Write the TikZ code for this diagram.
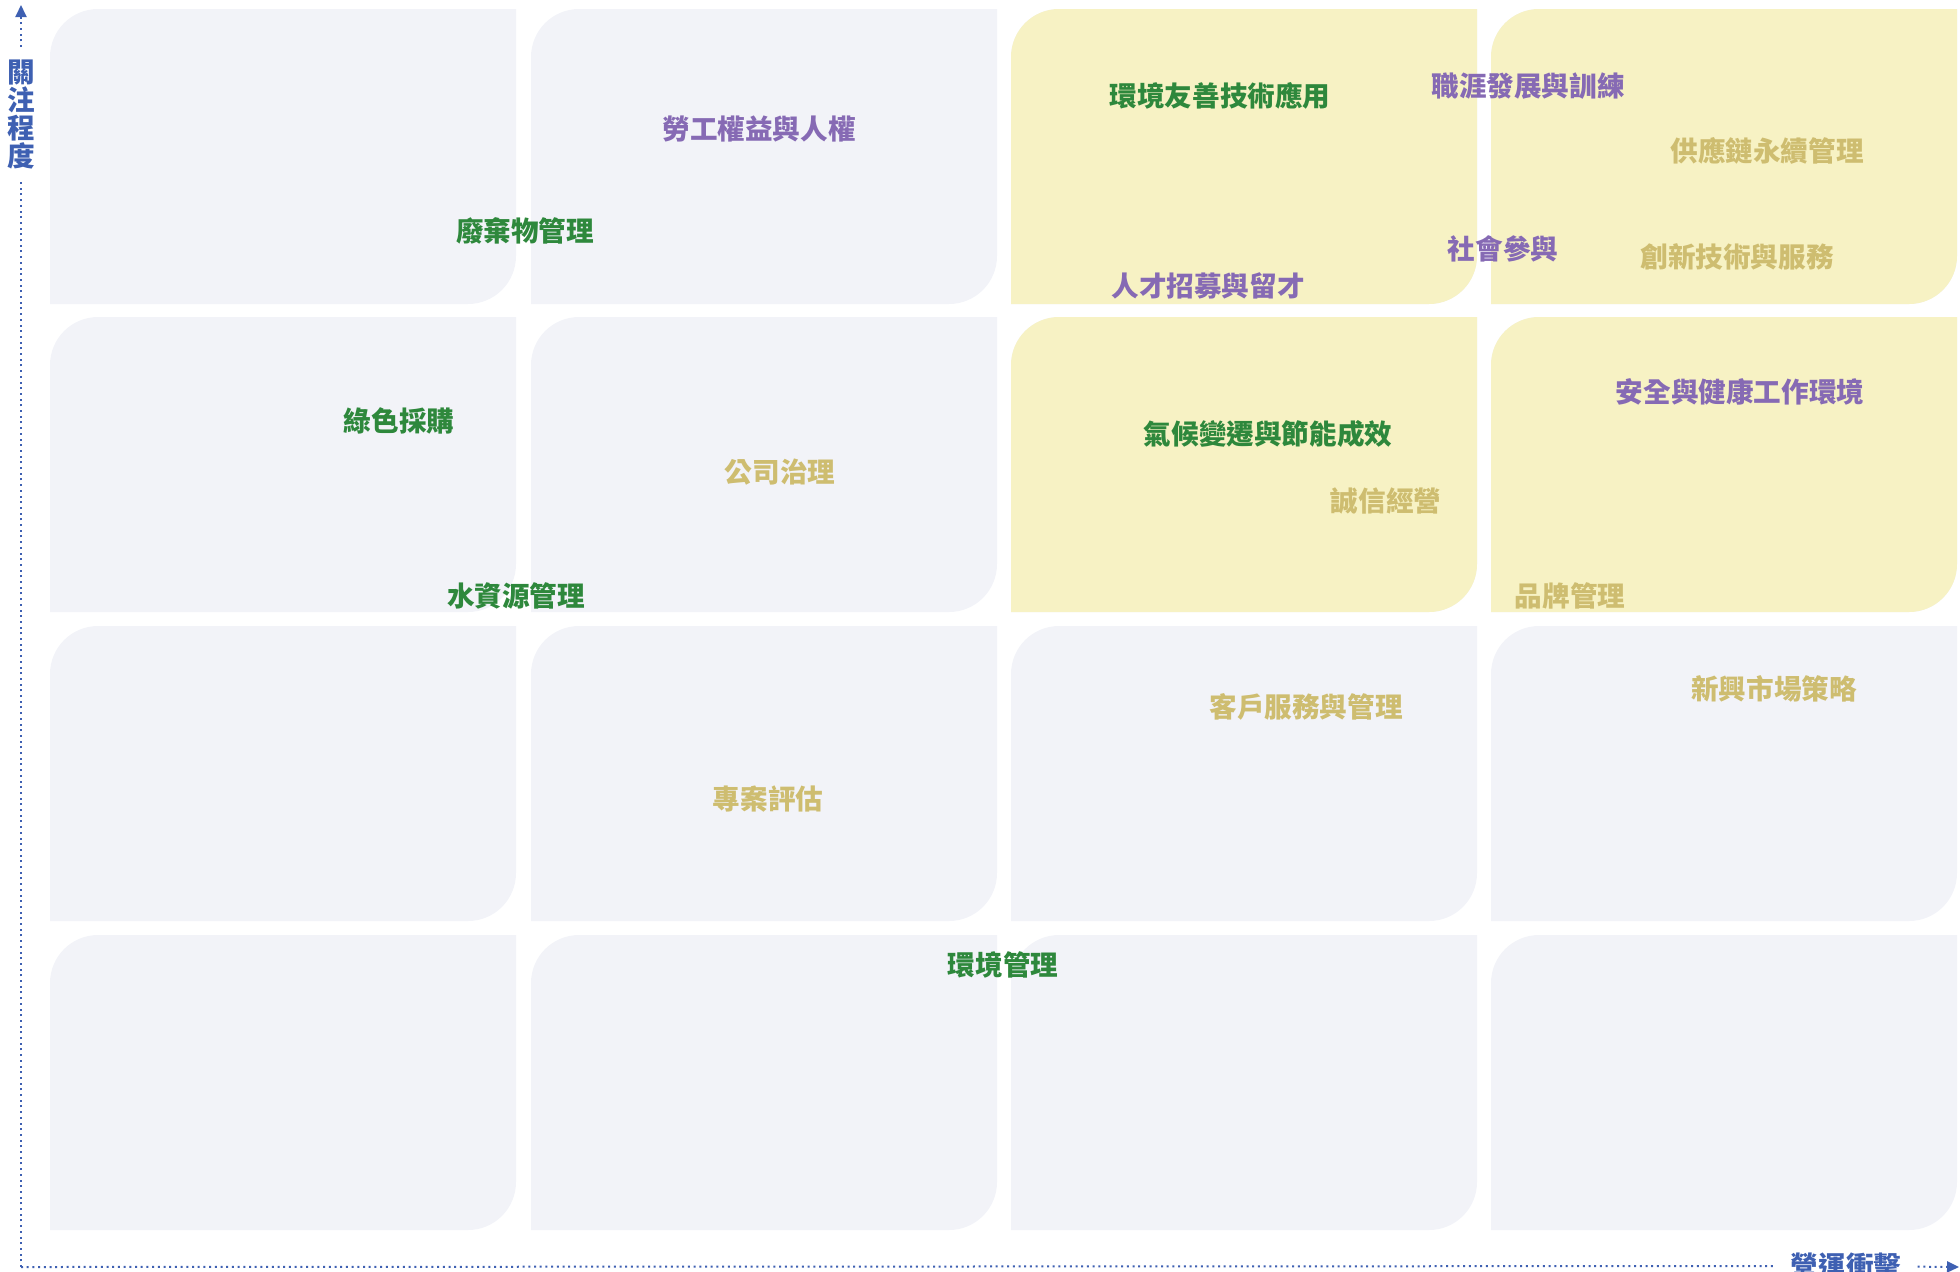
\documentclass[tikz,border=0pt]{standalone}
\usepackage{fontspec}
\usepackage{tikz}
\usetikzlibrary{arrows.meta}
\newfontfamily\cjk{Noto Sans CJK TC}
\definecolor{cellgrey}{RGB}{242,243,248}
\definecolor{cellyellow}{RGB}{247,242,196}
\definecolor{envgreen}{RGB}{46,136,60}
\definecolor{socpurple}{RGB}{134,106,180}
\definecolor{govtan}{RGB}{206,189,112}
\definecolor{axisblue}{RGB}{62,96,178}
\tikzset{t/.style={font=\cjk\bfseries\fontsize{13.8}{14}\selectfont,inner sep=0pt}}
\tikzset{env/.style={t,text=envgreen}}
\tikzset{soc/.style={t,text=socpurple}}
\tikzset{gov/.style={t,text=govtan}}
\tikzset{axis/.style={axisblue,line width=1pt,dash pattern=on 1pt off 1.85pt}}
\tikzset{ax/.style={t,text=axisblue,inner sep=6pt}}

\begin{document}
\begin{tikzpicture}[x=0.5pt,y=-0.5pt]
\useasboundingbox (0,0) rectangle (1960,1271);
% cells
\foreach \x in {50,531,1011,1491}
  \foreach \y in {9,317,626,935}
    \fill[cellgrey] (\x,\y+48) arc[start angle=180,end angle=270,radius=48] -- (\x+466,\y) -- (\x+466,\y+247) arc[start angle=0,end angle=90,radius=48] -- (\x,\y+295) -- cycle;
\foreach \x in {1011,1491}
  \foreach \y in {9,317}
    \fill[cellyellow] (\x,\y+48) arc[start angle=180,end angle=270,radius=48] -- (\x+466,\y) -- (\x+466,\y+247) arc[start angle=0,end angle=90,radius=48] -- (\x,\y+295) -- cycle;

% axes
\coordinate (orig) at (21,1267);
\coordinate (ytip) at (21,5);
\coordinate (xtip) at (1959,1267);
\node[ax,align=center] (ylab) at (21,114) {關\\注\\程\\度};
\node[ax,inner sep=8pt] (xlab) at (1846,1266) {營運衝擊};
\draw[axis] (orig) -- (ylab);
\draw[axis,-{Triangle[length=6pt,width=5.5pt]}] (ylab) -- (ytip);
\draw[axis] (orig) -- (xlab);
\draw[axis,-{Triangle[length=6pt,width=5.5pt]}] (xlab) -- (xtip);

% topics
\node[soc] (labour) at (759,129) {勞工權益與人權};
\node[env] (waste) at (525,231) {廢棄物管理};
\node[env] (ecotech) at (1220,96) {環境友善技術應用};
\node[soc] (career) at (1528,86) {職涯發展與訓練};
\node[gov] (supply) at (1767,151) {供應鏈永續管理};
\node[soc] (community) at (1503,249) {社會參與};
\node[gov] (innov) at (1737,257) {創新技術與服務};
\node[soc] (talent) at (1208,286) {人才招募與留才};
\node[env] (greenbuy) at (399,421) {綠色採購};
\node[gov] (governance) at (780,472) {公司治理};
\node[env] (climate) at (1268,434) {氣候變遷與節能成效};
\node[gov] (integrity) at (1386,501) {誠信經營};
\node[soc] (safety) at (1740,392) {安全與健康工作環境};
\node[gov] (brand) at (1570,596) {品牌管理};
\node[env] (water) at (516,596) {水資源管理};
\node[gov] (client) at (1306,707) {客戶服務與管理};
\node[gov] (market) at (1774,689) {新興市場策略};
\node[gov] (project) at (768,799) {專案評估};
\node[env] (envmgmt) at (1003,965) {環境管理};
\end{tikzpicture}
\end{document}
